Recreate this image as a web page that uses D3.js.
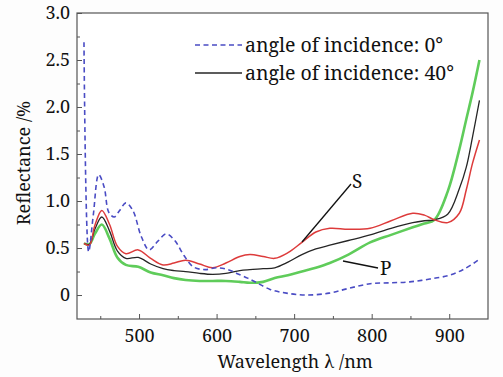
<!DOCTYPE html>
<html>
<head>
<meta charset="utf-8">
<script src="https://cdn.jsdelivr.net/npm/d3@7/dist/d3.min.js"></script>
<style>
  html, body { margin: 0; padding: 0; background: #fdfdfd; }
  svg { display: block; }
  text { font-family: "Noto Serif", "DejaVu Serif", serif; fill: #111; }
</style>
</head>
<body>
<svg id="chart" width="503" height="377"></svg>
<script>
// ---- data ----
const wl40 = [429, 436, 443, 452, 462, 472, 483, 499, 515, 531, 545, 560, 578, 595, 612, 630, 643, 660, 675, 692, 710, 728, 746, 770, 798, 825, 853, 868, 881, 898, 913, 922, 930, 939];
const sPol = [0.55, 0.53, 0.74, 0.90, 0.75, 0.52, 0.44, 0.48, 0.39, 0.32, 0.34, 0.37, 0.33, 0.29, 0.34, 0.41, 0.43, 0.41, 0.39, 0.45, 0.56, 0.67, 0.71, 0.70, 0.71, 0.79, 0.87, 0.85, 0.80, 0.77, 0.87, 1.12, 1.40, 1.65];
const avg40 = [0.55, 0.54, 0.70, 0.83, 0.68, 0.47, 0.39, 0.40, 0.33, 0.28, 0.26, 0.25, 0.23, 0.22, 0.23, 0.26, 0.27, 0.28, 0.29, 0.35, 0.43, 0.49, 0.53, 0.58, 0.64, 0.71, 0.77, 0.79, 0.80, 0.86, 1.13, 1.36, 1.68, 2.07];
const pPol = [0.55, 0.54, 0.65, 0.75, 0.60, 0.40, 0.32, 0.30, 0.24, 0.21, 0.18, 0.16, 0.15, 0.15, 0.15, 0.14, 0.13, 0.14, 0.18, 0.21, 0.25, 0.29, 0.34, 0.43, 0.56, 0.64, 0.72, 0.76, 0.80, 1.10, 1.55, 1.87, 2.15, 2.50];

const wl0 = [429, 435, 441, 448, 455, 461, 468, 475, 483, 492, 503, 513, 524, 535, 546, 558, 570, 585, 600, 615, 626, 640, 652, 669, 690, 715, 745, 770, 798, 825, 849, 875, 900, 920, 939];
const avg0 = [2.69, 0.46, 0.85, 1.28, 1.15, 0.88, 0.83, 0.90, 0.98, 0.90, 0.62, 0.48, 0.57, 0.65, 0.58, 0.42, 0.30, 0.27, 0.29, 0.27, 0.23, 0.18, 0.13, 0.06, 0.02, 0.00, 0.02, 0.07, 0.12, 0.13, 0.14, 0.17, 0.21, 0.28, 0.38];

const xTicks = [500, 600, 700, 800, 900];
const yTicks = [0, 0.5, 1.0, 1.5, 2.0, 2.5, 3.0];
const yTickLabels = ["0", "0.5", "1.0", "1.5", "2.0", "2.5", "3.0"];
const legendLabels = ["angle of incidence: 0°", "angle of incidence: 40°"];

// ---- layout ----
const FONT = "Noto Serif";
const svg = d3.select("#chart");
const L = 77, R = 488, T = 13, B = 319;
const x = d3.scaleLinear().domain([420, 950]).range([L, R]);
const y = d3.scaleLinear().domain([-0.255, 3.0]).range([B, T]);

svg.append("rect").attr("x", L).attr("y", T).attr("width", R - L).attr("height", B - T)
  .attr("fill", "#fff");

// axes (ticks inward)
const xAxis = d3.axisBottom(x).tickValues(xTicks).tickSizeInner(-5).tickSizeOuter(0).tickPadding(10)
  .tickFormat(d3.format("d"));
const xMinor = d3.axisBottom(x).tickValues([450, 550, 650, 750, 850]).tickSizeInner(-3).tickSizeOuter(0).tickFormat("");
const yAxis = d3.axisLeft(y).tickValues(yTicks).tickSizeInner(-5).tickSizeOuter(0).tickPadding(7)
  .tickFormat((d, i) => yTickLabels[i]);
const yMinor = d3.axisLeft(y).tickValues([0.25, 0.75, 1.25, 1.75, 2.25, 2.75]).tickSizeInner(-3).tickSizeOuter(0).tickFormat("");

function style(g) {
  g.attr("font-family", FONT);
  g.select(".domain").remove();
  g.selectAll("line").attr("stroke", "#555");
  g.selectAll("text").attr("font-size", 18).attr("fill", "#111");
}
svg.append("g").attr("transform", `translate(0,${B})`).call(xAxis).call(style);
svg.append("g").attr("transform", `translate(0,${B})`).call(xMinor).call(style);
svg.append("g").attr("transform", `translate(${L},0)`).call(yAxis).call(style);
svg.append("g").attr("transform", `translate(${L},0)`).call(yMinor).call(style);

// curves
const line = d3.line().x(d => x(d[0])).y(d => y(d[1])).curve(d3.curveCatmullRom.alpha(0.5));
const zip = (a, b) => a.map((v, i) => [v, b[i]]);

svg.append("path").datum(zip(wl40, pPol)).attr("d", line)
  .attr("fill", "none").attr("stroke", "#5fcc5a").attr("stroke-width", 2.6);
svg.append("path").datum(zip(wl40, avg40)).attr("d", line)
  .attr("fill", "none").attr("stroke", "#262626").attr("stroke-width", 1.3);
svg.append("path").datum(zip(wl40, sPol)).attr("d", line)
  .attr("fill", "none").attr("stroke", "#dd3b3b").attr("stroke-width", 1.5);
svg.append("path").datum(zip(wl0, avg0)).attr("d", line)
  .attr("fill", "none").attr("stroke", "#4a4cc4").attr("stroke-width", 1.6)
  .attr("stroke-dasharray", "5,3.5");

// frame
svg.append("rect").attr("x", L).attr("y", T).attr("width", R - L).attr("height", B - T)
  .attr("fill", "none").attr("stroke", "#555").attr("stroke-width", 1.2);

// legend
const lg = svg.append("g");
lg.append("line").attr("x1", 195).attr("x2", 242).attr("y1", 45).attr("y2", 45)
  .attr("stroke", "#4a4cc4").attr("stroke-width", 1.4).attr("stroke-dasharray", "5,3.5");
lg.append("line").attr("x1", 195).attr("x2", 242).attr("y1", 73).attr("y2", 73)
  .attr("stroke", "#262626").attr("stroke-width", 1.3);
lg.selectAll("text.lab").data(legendLabels).join("text").attr("class", "lab")
  .attr("x", 245).attr("y", (d, i) => 51.5 + i * 28).attr("font-size", 19.5).text(d => d);

// annotations
svg.append("line").attr("x1", 351).attr("y1", 184).attr("x2", 302).attr("y2", 242)
  .attr("stroke", "#111").attr("stroke-width", 1.3);
svg.append("text").attr("x", 352).attr("y", 188).attr("font-size", 19).text("S");
svg.append("line").attr("x1", 343).attr("y1", 261).attr("x2", 378).attr("y2", 268)
  .attr("stroke", "#111").attr("stroke-width", 1.3);
svg.append("text").attr("x", 380).attr("y", 275).attr("font-size", 19).text("P");

// axis titles
svg.append("text").attr("x", 295).attr("y", 368).attr("text-anchor", "middle")
  .attr("font-size", 18).text("Wavelength λ /nm");
svg.append("text").attr("transform", "translate(30,163) rotate(-90)").attr("text-anchor", "middle")
  .attr("font-size", 18).text("Reflectance /%");
</script>
</body>
</html>
